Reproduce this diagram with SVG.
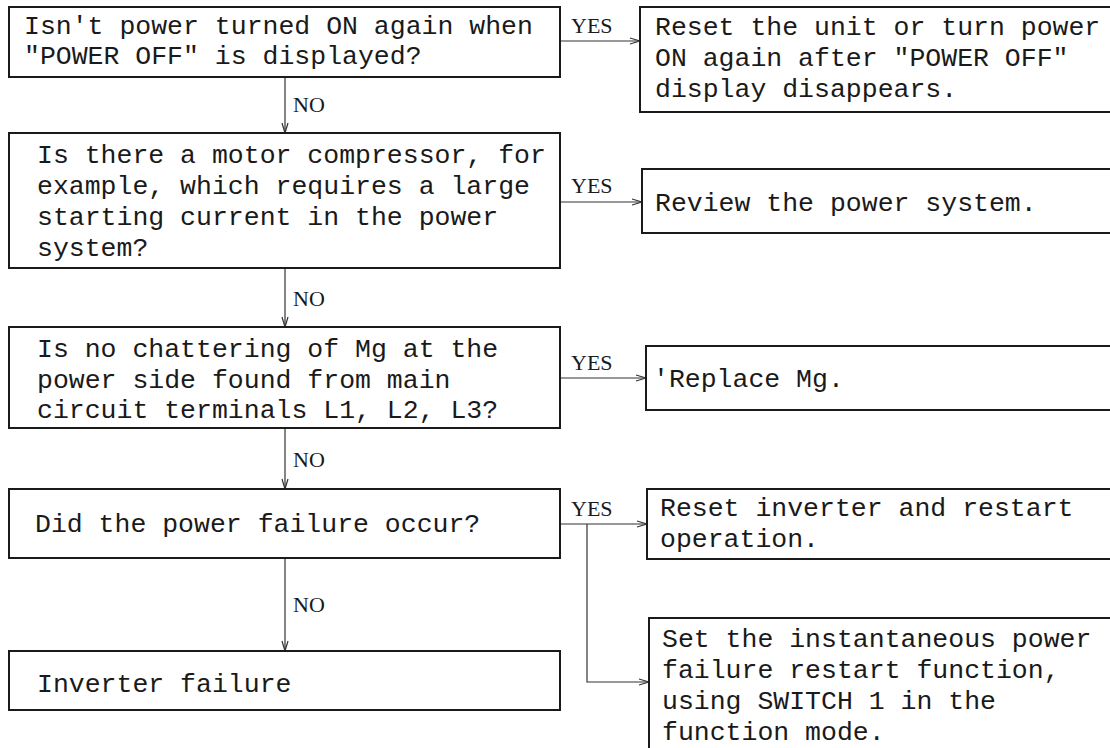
<svg xmlns="http://www.w3.org/2000/svg" width="1110" height="748" viewBox="0 0 1110 748">
<style>
.box{fill:none;stroke:#1a1a1a;stroke-width:2}
.t{font-family:"Liberation Mono","DejaVu Sans Mono",monospace;font-size:26.5px;fill:#1a1a1a}
.lbl{font-family:"Liberation Serif","DejaVu Serif",serif;font-size:22px;fill:#1a1a1a}
.c{fill:none;stroke:#333;stroke-width:1.2}
</style>
<defs>
<marker id="ah" markerWidth="12" markerHeight="8" refX="11" refY="4" orient="auto" markerUnits="userSpaceOnUse">
<path d="M1,1 L11,4 L1,7" fill="none" stroke="#333" stroke-width="1.2"/>
</marker>
</defs>
<rect width="1110" height="748" fill="#fff"/>
<g id="connectors">
<line class="c" x1="285" y1="77" x2="285" y2="133" marker-end="url(#ah)"/>
<line class="c" x1="285" y1="268" x2="285" y2="327" marker-end="url(#ah)"/>
<line class="c" x1="285" y1="428" x2="285" y2="489" marker-end="url(#ah)"/>
<line class="c" x1="285" y1="558" x2="285" y2="651" marker-end="url(#ah)"/>
<line class="c" x1="560" y1="41" x2="640" y2="41" marker-end="url(#ah)"/>
<line class="c" x1="560" y1="202" x2="642" y2="202" marker-end="url(#ah)"/>
<line class="c" x1="560" y1="378" x2="646" y2="378" marker-end="url(#ah)"/>
<line class="c" x1="560" y1="524" x2="647" y2="524" marker-end="url(#ah)"/>
<polyline class="c" points="587,524 587,682 649,682" marker-end="url(#ah)"/>
<text class="lbl" x="293" y="112">NO</text>
<text class="lbl" x="293" y="306">NO</text>
<text class="lbl" x="293" y="467">NO</text>
<text class="lbl" x="293" y="612">NO</text>
<text class="lbl" x="571" y="33">YES</text>
<text class="lbl" x="571" y="193">YES</text>
<text class="lbl" x="571" y="370">YES</text>
<text class="lbl" x="571" y="516">YES</text>
</g>
<g id="q1">
<rect class="box" x="9" y="7" width="551" height="70"/>
<text class="t" x="24" y="34">Isn't power turned ON again when</text>
<text class="t" x="24" y="64">"POWER OFF" is displayed?</text>
</g>
<g id="r1">
<rect class="box" x="640" y="7" width="490" height="105"/>
<text class="t" x="655" y="35">Reset the unit or turn power</text>
<text class="t" x="655" y="66">ON again after "POWER OFF"</text>
<text class="t" x="655" y="97">display disappears.</text>
</g>
<g id="q2">
<rect class="box" x="9" y="133" width="551" height="135"/>
<text class="t" x="37" y="163">Is there a motor compressor, for</text>
<text class="t" x="37" y="194">example, which requires a large</text>
<text class="t" x="37" y="225">starting current in the power</text>
<text class="t" x="37" y="256">system?</text>
</g>
<g id="r2">
<rect class="box" x="642" y="169" width="490" height="64"/>
<text class="t" x="655" y="211">Review the power system.</text>
</g>
<g id="q3">
<rect class="box" x="9" y="327" width="551" height="101"/>
<text class="t" x="37" y="357">Is no chattering of Mg at the</text>
<text class="t" x="37" y="388">power side found from main</text>
<text class="t" x="37" y="418">circuit terminals L1, L2, L3?</text>
</g>
<g id="r3">
<rect class="box" x="646" y="346" width="490" height="64"/>
<text class="t" x="653" y="387">'Replace Mg.</text>
</g>
<g id="q4">
<rect class="box" x="9" y="489" width="551" height="69"/>
<text class="t" x="35" y="532">Did the power failure occur?</text>
</g>
<g id="r4">
<rect class="box" x="647" y="489" width="490" height="70"/>
<text class="t" x="660" y="516">Reset inverter and restart</text>
<text class="t" x="660" y="547">operation.</text>
</g>
<g id="q5">
<rect class="box" x="9" y="651" width="551" height="59"/>
<text class="t" x="37" y="692">Inverter failure</text>
</g>
<g id="r5">
<rect class="box" x="649" y="618" width="490" height="160"/>
<text class="t" x="662" y="647">Set the instantaneous power</text>
<text class="t" x="662" y="678">failure restart function,</text>
<text class="t" x="662" y="709">using SWITCH 1 in the</text>
<text class="t" x="662" y="740">function mode.</text>
</g>
</svg>
